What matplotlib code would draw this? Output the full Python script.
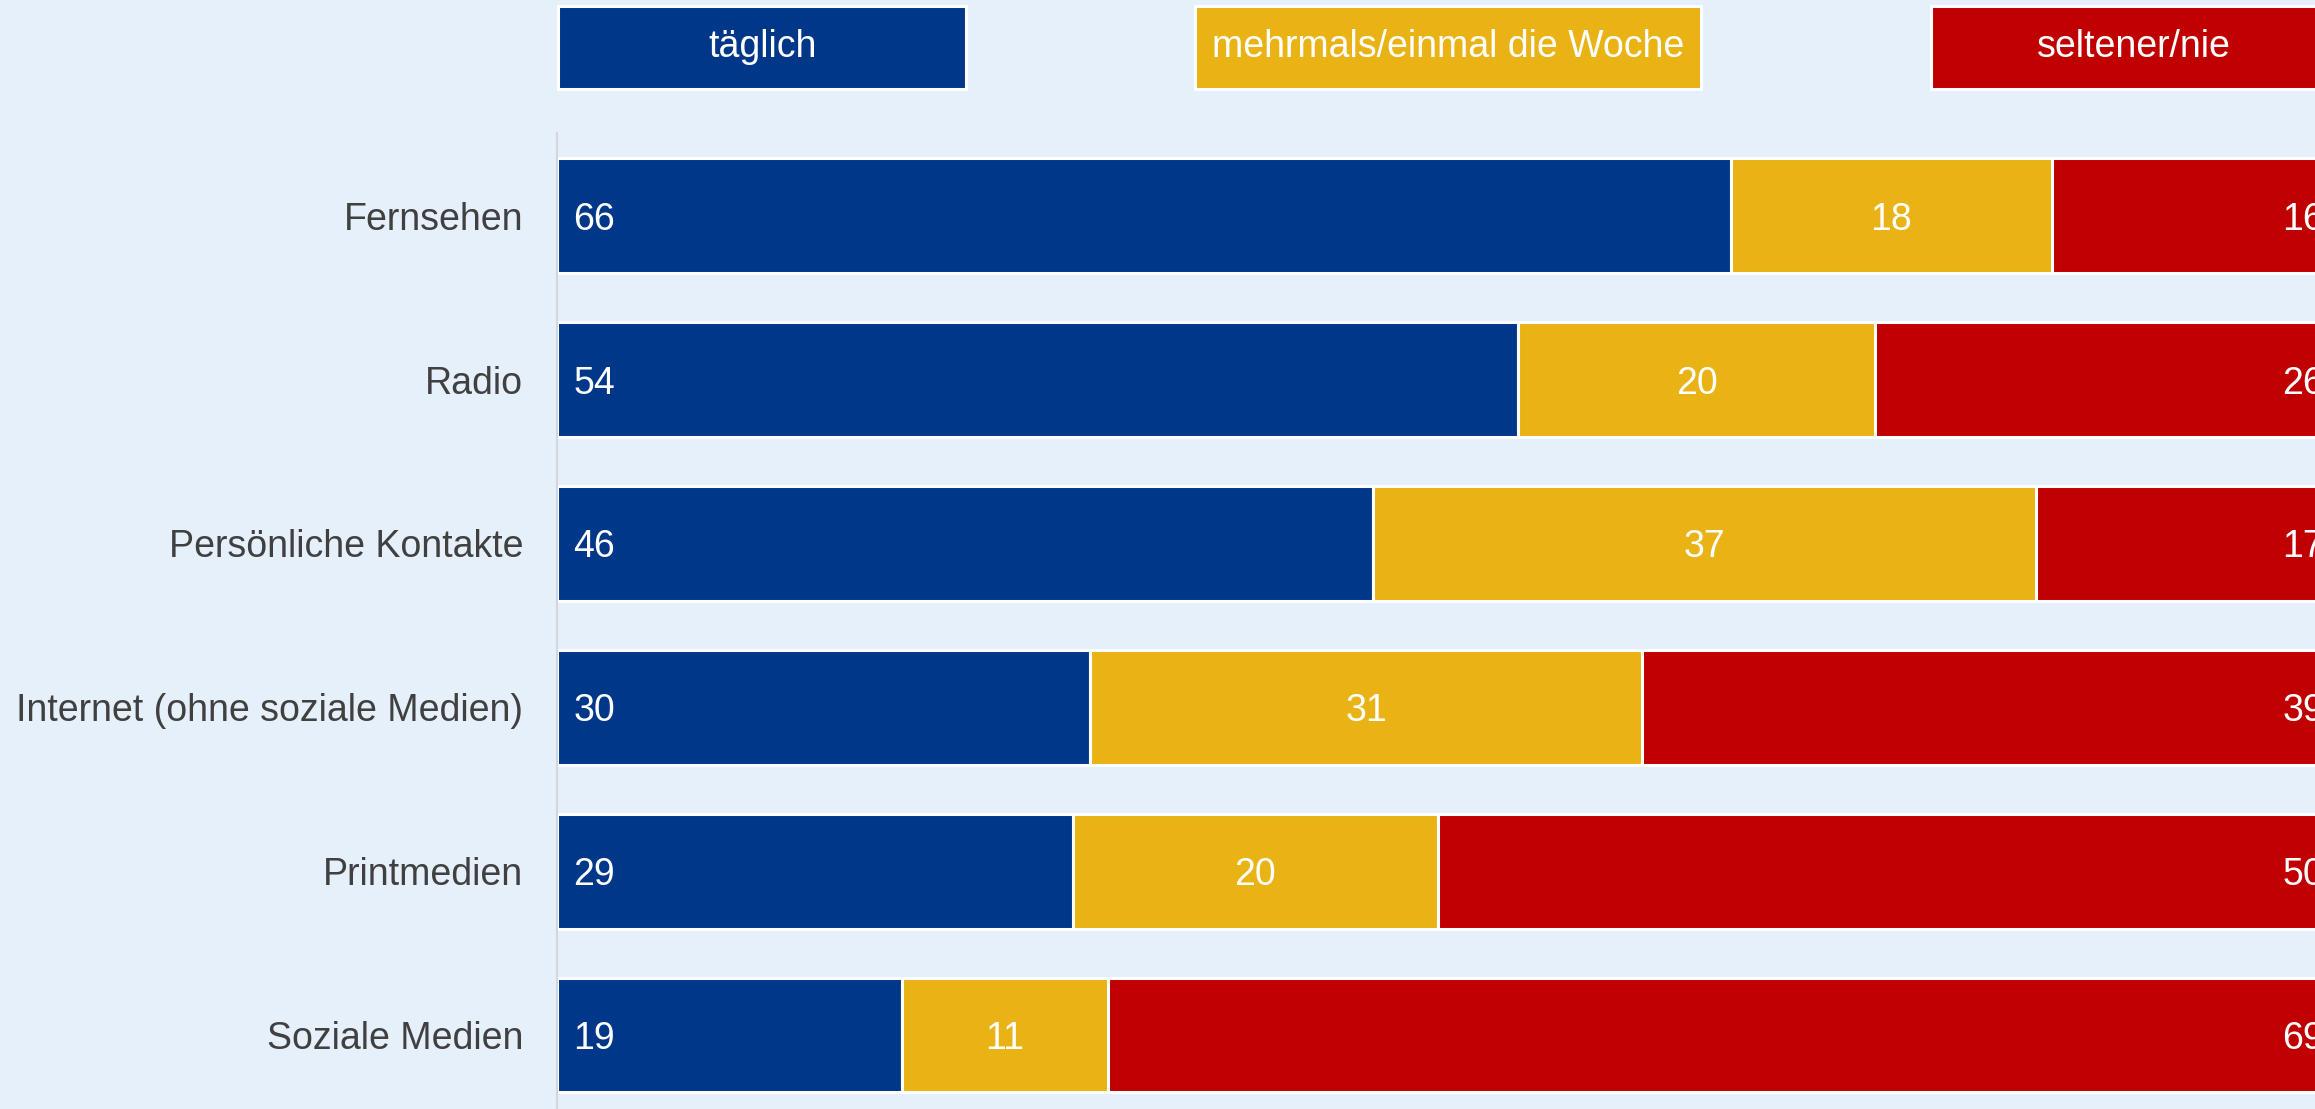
import matplotlib.pyplot as plt
import matplotlib.transforms as mtransforms
from matplotlib.patches import Rectangle

plt.rcParams['font.family'] = ['Liberation Sans', 'DejaVu Sans']

categories = ['Fernsehen', 'Radio', 'Persönliche Kontakte', 'Internet (ohne soziale Medien)',
              'Printmedien', 'Soziale Medien']
# bar widths as measured, and the numbers printed on them
taeglich = [66.0, 54.0, 45.9, 30.0, 29.0, 19.4]
woche = [18.0, 20.1, 37.2, 31.0, 20.5, 11.6]
selten = [16.0, 25.9, 16.9, 39.0, 50.5, 69.0]
taeglich_lbl = [66, 54, 46, 30, 29, 19]
woche_lbl = [18, 20, 37, 31, 20, 11]
selten_lbl = [16, 26, 17, 39, 50, 69]
series_names = ['täglich', 'mehrmals/einmal die Woche', 'seltener/nie']

c_blue = '#003789'
c_yellow = '#EAB315'
c_red = '#C00000'
bg = '#E6F0FA'

fig = plt.figure(figsize=(23.15, 11.09), dpi=100, facecolor=bg)
ax = fig.add_axes([0.2404, 0.0, 0.7596, 0.880])
ax.set_facecolor(bg)

y = list(range(len(categories)))
fs = 27

ax.barh(y, taeglich, height=0.7, color=c_blue, edgecolor='white', linewidth=2.2)
left2 = taeglich
ax.barh(y, woche, left=left2, height=0.7, color=c_yellow, edgecolor='white', linewidth=2.2)
left3 = [a + b for a, b in zip(taeglich, woche)]
ax.barh(y, selten, left=left3, height=0.7, color=c_red, edgecolor='white', linewidth=2.2)

for i in y:
    ax.annotate(str(taeglich_lbl[i]), xy=(0, i), xytext=(12, 0), textcoords='offset points',
                ha='left', va='center_baseline', color='white', fontsize=fs)
    ax.text(left2[i] + woche[i] / 2, i, str(woche_lbl[i]), ha='center',
            va='center_baseline', color='white', fontsize=fs)
    ax.annotate(str(selten_lbl[i]), xy=(left3[i] + selten[i], i), xytext=(-9, 0),
                textcoords='offset points', ha='right', va='center_baseline', color='white',
                fontsize=fs, annotation_clip=False)

ax.set_xlim(0, 98.8)
ax.set_ylim(5.451, -0.504)
ax.set_yticks(y)
ax.set_yticklabels(categories, fontsize=fs, color='#404040')
ax.tick_params(axis='y', length=0, pad=24)
ax.set_xticks([])
for s in ['top', 'right', 'bottom']:
    ax.spines[s].set_visible(False)
ax.spines['left'].set_color('#D3D6DA')
ax.spines['left'].set_linewidth(1.5)

# legend boxes across the top
trans = mtransforms.blended_transform_factory(ax.transData, fig.transFigure)
legend_spans = [(0.1, 23.0), (35.9, 64.3), (77.2, 100.0)]
colors = [c_blue, c_yellow, c_red]
for (x0, x1), col, name in zip(legend_spans, colors, series_names):
    ax.add_patch(Rectangle((x0, 0.9197), x1 - x0, 0.0749, transform=trans,
                           facecolor=col, edgecolor='white', linewidth=2.2, clip_on=False))
    ax.text((x0 + x1) / 2, 0.9572, name, transform=trans, ha='center', va='center',
            color='white', fontsize=fs, clip_on=False)

fig.savefig('out.png', dpi=100, facecolor=bg)
